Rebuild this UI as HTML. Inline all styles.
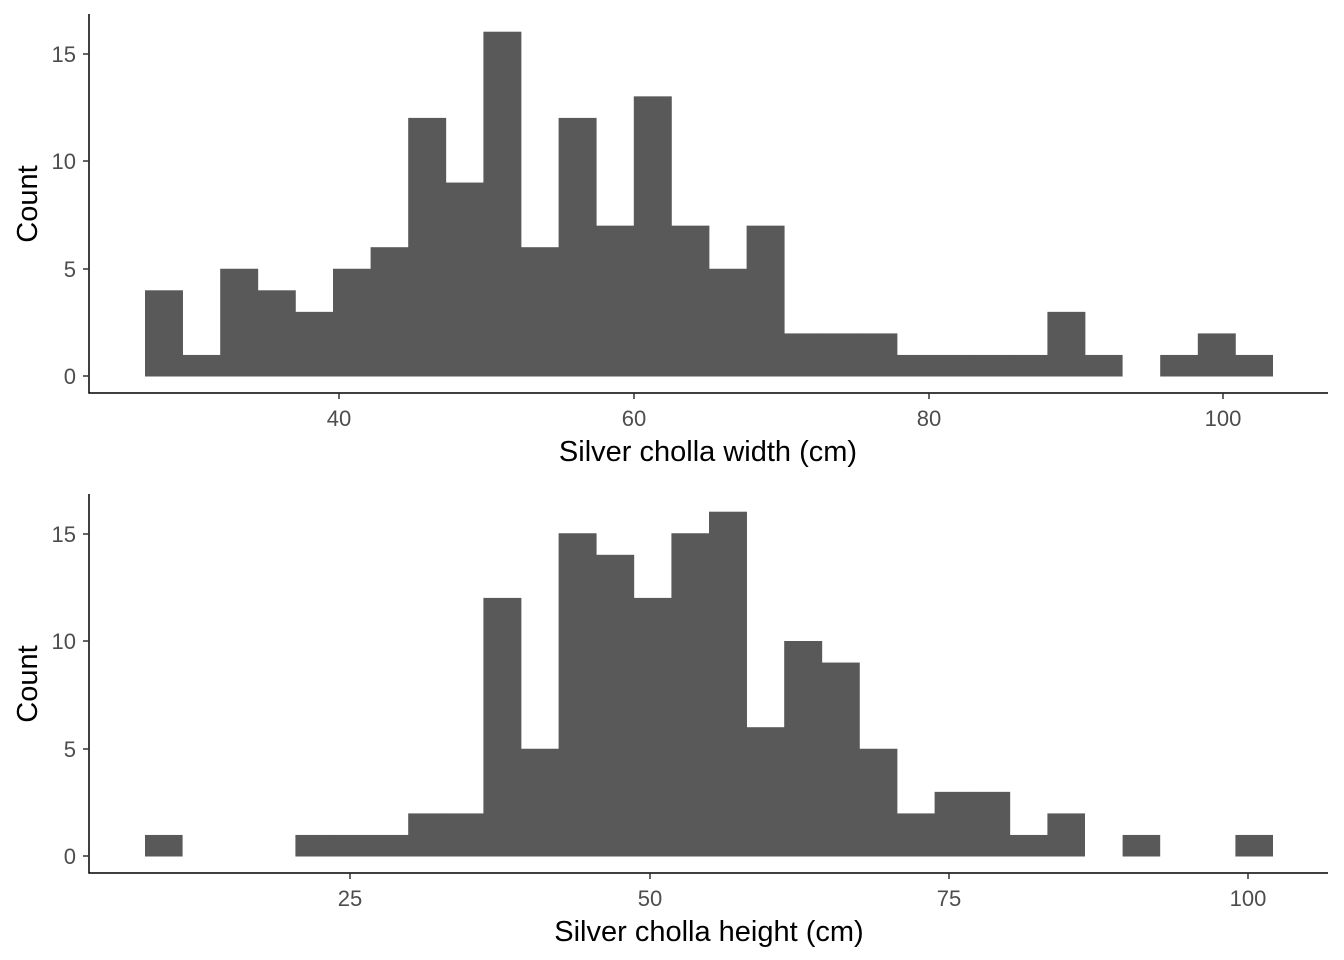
<!DOCTYPE html>
<html><head><meta charset="utf-8"><style>html,body{margin:0;padding:0;background:#fff}svg{display:block}</style></head>
<body>
<svg width="1344" height="960" viewBox="0 0 1344 960" xmlns="http://www.w3.org/2000/svg" font-family="Liberation Sans, Arial, sans-serif">
<rect width="1344" height="960" fill="#fff"/>
<g fill="#595959" transform="translate(145,376.5) scale(37.6,-21.55)">
<rect x="0" y="0" width="1.01" height="4"/>
<rect x="1" y="0" width="1.01" height="1"/>
<rect x="2" y="0" width="1.01" height="5"/>
<rect x="3" y="0" width="1.01" height="4"/>
<rect x="4" y="0" width="1.01" height="3"/>
<rect x="5" y="0" width="1.01" height="5"/>
<rect x="6" y="0" width="1.01" height="6"/>
<rect x="7" y="0" width="1.01" height="12"/>
<rect x="8" y="0" width="1.01" height="9"/>
<rect x="9" y="0" width="1.01" height="16"/>
<rect x="10" y="0" width="1.01" height="6"/>
<rect x="11" y="0" width="1.01" height="12"/>
<rect x="12" y="0" width="1.01" height="7"/>
<rect x="13" y="0" width="1.01" height="13"/>
<rect x="14" y="0" width="1.01" height="7"/>
<rect x="15" y="0" width="1.01" height="5"/>
<rect x="16" y="0" width="1.01" height="7"/>
<rect x="17" y="0" width="1.01" height="2"/>
<rect x="18" y="0" width="1.01" height="2"/>
<rect x="19" y="0" width="1.01" height="2"/>
<rect x="20" y="0" width="1.01" height="1"/>
<rect x="21" y="0" width="1.01" height="1"/>
<rect x="22" y="0" width="1.01" height="1"/>
<rect x="23" y="0" width="1.01" height="1"/>
<rect x="24" y="0" width="1.01" height="3"/>
<rect x="25" y="0" width="1" height="1"/>
<rect x="27" y="0" width="1.01" height="1"/>
<rect x="28" y="0" width="1.01" height="2"/>
<rect x="29" y="0" width="1" height="1"/>
</g>
<g fill="#595959" transform="translate(145,856.5) scale(37.6,-21.55)">
<rect x="0" y="0" width="1" height="1"/>
<rect x="4" y="0" width="1.01" height="1"/>
<rect x="5" y="0" width="1.01" height="1"/>
<rect x="6" y="0" width="1.01" height="1"/>
<rect x="7" y="0" width="1.01" height="2"/>
<rect x="8" y="0" width="1.01" height="2"/>
<rect x="9" y="0" width="1.01" height="12"/>
<rect x="10" y="0" width="1.01" height="5"/>
<rect x="11" y="0" width="1.01" height="15"/>
<rect x="12" y="0" width="1.01" height="14"/>
<rect x="13" y="0" width="1.01" height="12"/>
<rect x="14" y="0" width="1.01" height="15"/>
<rect x="15" y="0" width="1.01" height="16"/>
<rect x="16" y="0" width="1.01" height="6"/>
<rect x="17" y="0" width="1.01" height="10"/>
<rect x="18" y="0" width="1.01" height="9"/>
<rect x="19" y="0" width="1.01" height="5"/>
<rect x="20" y="0" width="1.01" height="2"/>
<rect x="21" y="0" width="1.01" height="3"/>
<rect x="22" y="0" width="1.01" height="3"/>
<rect x="23" y="0" width="1.01" height="1"/>
<rect x="24" y="0" width="1" height="2"/>
<rect x="26" y="0" width="1" height="1"/>
<rect x="29" y="0" width="1" height="1"/>
</g>
<g stroke="#000" stroke-width="1.5" fill="none">
<path d="M89,14V393H1328"/>
<path d="M89,494V873H1328"/>
</g>
<g stroke="#333" stroke-width="1.5">
<path d="M83,376H89M83,269H89M83,161H89M83,54H89"/>
<path d="M339,393V399M634,393V399M929,393V399M1223,393V399"/>
<path d="M83,856H89M83,749H89M83,641H89M83,534H89"/>
<path d="M350,873V879M650,873V879M949,873V879M1248,873V879"/>
</g>
<g fill="#4d4d4d" font-size="22" text-anchor="end">
<text x="76" y="384">0</text><text x="76" y="277">5</text><text x="76" y="169">10</text><text x="76" y="62">15</text>
<text x="76" y="864">0</text><text x="76" y="757">5</text><text x="76" y="649">10</text><text x="76" y="542">15</text>
</g>
<g fill="#4d4d4d" font-size="22" text-anchor="middle">
<text x="339" y="426">40</text><text x="634" y="426">60</text><text x="929" y="426">80</text><text x="1223" y="426">100</text>
<text x="350" y="906">25</text><text x="650" y="906">50</text><text x="949" y="906">75</text><text x="1248" y="906">100</text>
</g>
<g fill="#000" font-size="29" text-anchor="middle">
<text x="708" y="461">Silver cholla width (cm)</text>
<text x="709" y="941">Silver cholla height (cm)</text>
<text transform="translate(37,204) rotate(-90)">Count</text>
<text transform="translate(37,684) rotate(-90)">Count</text>
</g>
</svg>
</body></html>
